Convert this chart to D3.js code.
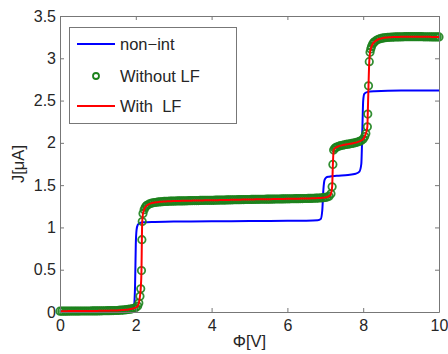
<!DOCTYPE html>
<html>
<head>
<meta charset="utf-8">
<script src="https://cdn.jsdelivr.net/npm/d3@7"></script>
<style>
  body { margin: 0; background: #fff; }
  svg { display: block; font-family: "Liberation Sans", Arial, Helvetica, sans-serif; }
</style>
</head>
<body>
<svg id="chart" width="448" height="354"></svg>
<script>
// ---- data ----
const xTicks = [0, 2, 4, 6, 8, 10];
const yTicks = [0, 0.5, 1, 1.5, 2, 2.5, 3, 3.5];
const seriesNames = ["non\u2212int", "Without LF", "With  LF"];

// non-interacting curve: [Phi, J]
const nonInt = [[0,0.005],[0.5,0.007],[1.0,0.01],[1.5,0.015],[1.8,0.025],[1.9,0.035],[1.95,0.06],[1.98,0.3],[2.0,0.8],[2.02,0.97],[2.05,1.03],[2.1,1.05],[2.2,1.06],[2.5,1.065],[3,1.07],[4,1.072],[5,1.075],[6,1.078],[6.5,1.08],[6.8,1.085],[6.88,1.1],[6.92,1.2],[6.95,1.45],[6.98,1.56],[7.02,1.59],[7.1,1.6],[7.3,1.61],[7.6,1.62],[7.8,1.635],[7.9,1.66],[7.95,1.75],[7.98,2.2],[8.0,2.5],[8.03,2.58],[8.1,2.6],[8.3,2.61],[9,2.62],[10,2.62]];

// without level fluctuations (markers): [Phi, J]
const withoutLF = [
 [0.00,0.010],[0.05,0.010],[0.10,0.010],[0.15,0.010],[0.20,0.010],[0.25,0.011],[0.30,0.011],[0.35,0.011],[0.40,0.011],[0.45,0.011],
 [0.50,0.011],[0.55,0.012],[0.60,0.012],[0.65,0.012],[0.70,0.012],[0.75,0.012],[0.80,0.012],[0.85,0.013],[0.90,0.013],[0.95,0.013],
 [1.00,0.013],[1.05,0.014],[1.10,0.014],[1.15,0.015],[1.20,0.015],[1.25,0.016],[1.30,0.016],[1.35,0.017],[1.40,0.017],[1.45,0.018],
 [1.50,0.018],[1.55,0.020],[1.60,0.021],[1.65,0.023],[1.70,0.025],[1.75,0.027],[1.80,0.030],[1.85,0.034],[1.90,0.038],[1.95,0.044],
 [2.00,0.052],[2.05,0.070],[2.08,0.105],[2.11,0.185],[2.13,0.275],[2.15,0.49],[2.16,0.855],[2.17,1.07],[2.19,1.165],[2.22,1.21],
 [2.25,1.238],[2.28,1.255],[2.30,1.262],[2.35,1.276],[2.40,1.285],[2.45,1.291],[2.50,1.295],[2.55,1.298],[2.60,1.301],[2.65,1.303],
 [2.70,1.305],[2.75,1.307],[2.80,1.308],[2.85,1.309],[2.90,1.310],[2.95,1.311],[3.00,1.312],[3.05,1.312],[3.10,1.313],[3.15,1.313],
 [3.20,1.314],[3.25,1.314],[3.30,1.315],[3.35,1.315],[3.40,1.316],[3.45,1.316],[3.50,1.317],[3.55,1.317],[3.60,1.318],[3.65,1.318],
 [3.70,1.319],[3.75,1.319],[3.80,1.320],[3.85,1.320],[3.90,1.320],[3.95,1.321],[4.00,1.321],[4.05,1.321],[4.10,1.322],[4.15,1.322],
 [4.20,1.323],[4.25,1.323],[4.30,1.324],[4.35,1.324],[4.40,1.325],[4.45,1.325],[4.50,1.326],[4.55,1.326],[4.60,1.327],[4.65,1.327],
 [4.70,1.328],[4.75,1.328],[4.80,1.329],[4.85,1.329],[4.90,1.330],[4.95,1.330],[5.00,1.330],[5.05,1.331],[5.10,1.331],[5.15,1.332],
 [5.20,1.332],[5.25,1.332],[5.30,1.333],[5.35,1.333],[5.40,1.333],[5.45,1.334],[5.50,1.334],[5.55,1.334],[5.60,1.335],[5.65,1.335],
 [5.70,1.336],[5.75,1.336],[5.80,1.336],[5.85,1.337],[5.90,1.337],[5.95,1.338],[6.00,1.338],[6.05,1.338],[6.10,1.339],[6.15,1.339],
 [6.20,1.340],[6.25,1.340],[6.30,1.340],[6.35,1.341],[6.40,1.341],[6.45,1.342],[6.50,1.342],[6.55,1.343],[6.60,1.343],[6.65,1.344],
 [6.70,1.345],[6.75,1.346],[6.80,1.347],[6.85,1.348],[6.90,1.350],[6.95,1.352],[7.00,1.355],[7.05,1.360],[7.10,1.370],[7.15,1.398],
 [7.18,1.48],[7.20,1.745],[7.22,1.915],[7.25,1.935],[7.28,1.945],[7.30,1.950],[7.35,1.960],[7.40,1.967],[7.45,1.972],[7.50,1.977],
 [7.55,1.981],[7.60,1.985],[7.65,1.989],[7.70,1.993],[7.75,1.998],[7.80,2.003],[7.85,2.009],[7.90,2.017],[7.95,2.028],[8.00,2.045],
 [8.04,2.075],[8.07,2.11],[8.11,2.19],[8.12,2.34],[8.14,2.675],[8.16,2.96],[8.18,3.07],[8.20,3.11],[8.22,3.14],[8.25,3.17],
 [8.28,3.187],[8.30,3.195],[8.35,3.212],[8.40,3.225],[8.45,3.232],[8.50,3.238],[8.55,3.242],[8.60,3.245],[8.65,3.247],[8.70,3.249],
 [8.75,3.250],[8.80,3.251],[8.85,3.252],[8.90,3.253],[8.95,3.253],[9.00,3.254],[9.05,3.254],[9.10,3.255],[9.15,3.255],[9.20,3.255],
 [9.25,3.255],[9.30,3.255],[9.35,3.255],[9.40,3.255],[9.45,3.255],[9.50,3.255],[9.55,3.255],[9.60,3.254],[9.65,3.254],[9.70,3.254],
 [9.75,3.254],[9.80,3.253],[9.85,3.253],[9.90,3.253],[9.95,3.252],[10.00,3.252]
];
// with level fluctuations (line) coincides with the markers
const withLF = withoutLF.map(d => [d[0], d[1]]);

// ---- layout ----
const svg = d3.select("#chart");
const mL = 60, mR = 439, mT = 16, mB = 312;
const x = d3.scaleLinear().domain([0, 10]).range([mL, mR]);
const y = d3.scaleLinear().domain([0, 3.5]).range([mB, mT]);
const axisColor = "#777", textColor = "#262626";
const green = "#1c821c";

// data marks
const plot = svg.append("g");
const lineGen = d3.line().x(d => x(d[0])).y(d => y(d[1])).curve(d3.curveMonotoneX);
plot.append("path").datum(nonInt)
  .attr("d", lineGen).attr("fill", "none").attr("stroke", "#0000ff").attr("stroke-width", 2);

plot.selectAll("circle.m").data(withoutLF)
  .enter().append("circle").attr("class", "m")
  .attr("cx", d => x(d[0])).attr("cy", d => y(d[1])).attr("r", 3.7)
  .attr("fill", "none").attr("stroke", green).attr("stroke-width", 1.8).attr("stroke-opacity", 0.9);

plot.append("path").datum(withLF)
  .attr("d", lineGen).attr("fill", "none").attr("stroke", "#ff0000").attr("stroke-width", 2);

// axes (box with inward ticks)
function styleAxis(g) {
  g.select(".domain").attr("stroke", axisColor).attr("stroke-width", 1);
  g.selectAll(".tick line").attr("stroke", axisColor);
  g.selectAll(".tick text").attr("fill", textColor).attr("font-size", 16);
}
svg.append("g").attr("transform", `translate(0,${mB})`)
  .call(d3.axisBottom(x).tickValues(xTicks).tickFormat(d3.format("d")).tickSize(-4).tickPadding(8).tickSizeOuter(0))
  .call(styleAxis);
svg.append("g").attr("transform", `translate(0,${mT})`)
  .call(d3.axisTop(x).tickValues(xTicks).tickFormat("").tickSize(-4).tickSizeOuter(0))
  .call(styleAxis);
svg.append("g").attr("transform", `translate(${mL},0)`)
  .call(d3.axisLeft(y).tickValues(yTicks).tickFormat(d => String(d)).tickSize(-4).tickPadding(4).tickSizeOuter(0))
  .call(styleAxis);
svg.append("g").attr("transform", `translate(${mR},0)`)
  .call(d3.axisRight(y).tickValues(yTicks).tickFormat("").tickSize(-4).tickSizeOuter(0))
  .call(styleAxis);

// axis labels
svg.append("text").attr("x", (mL + mR) / 2).attr("y", 347)
  .attr("text-anchor", "middle").attr("font-size", 16.5).attr("fill", textColor).text("\u03A6[V]");
svg.append("text").attr("transform", `translate(24,${(mT + mB) / 2}) rotate(-90)`)
  .attr("text-anchor", "middle").attr("font-size", 16.5).attr("fill", textColor).text("J[\u03BCA]");

// legend
const lg = svg.append("g");
lg.append("rect").attr("x", 69.5).attr("y", 27.5).attr("width", 167).attr("height", 96)
  .attr("fill", "#fff").attr("stroke", axisColor).attr("stroke-width", 1);
const rows = [44, 76, 106];
lg.append("line").attr("x1", 77).attr("x2", 115).attr("y1", rows[0]).attr("y2", rows[0]).attr("stroke", "#0000ff").attr("stroke-width", 2);
lg.append("circle").attr("cx", 96).attr("cy", rows[1]).attr("r", 3).attr("fill", "none").attr("stroke", green).attr("stroke-width", 1.8);
lg.append("line").attr("x1", 77).attr("x2", 115).attr("y1", rows[2]).attr("y2", rows[2]).attr("stroke", "#ff0000").attr("stroke-width", 2);
seriesNames.forEach((n, i) => {
  lg.append("text").attr("x", 120).attr("y", rows[i] + 6).attr("font-size", 16.5).attr("fill", textColor)
    .attr("xml:space", "preserve").style("white-space", "pre").text(n);
});
</script>
</body>
</html>
